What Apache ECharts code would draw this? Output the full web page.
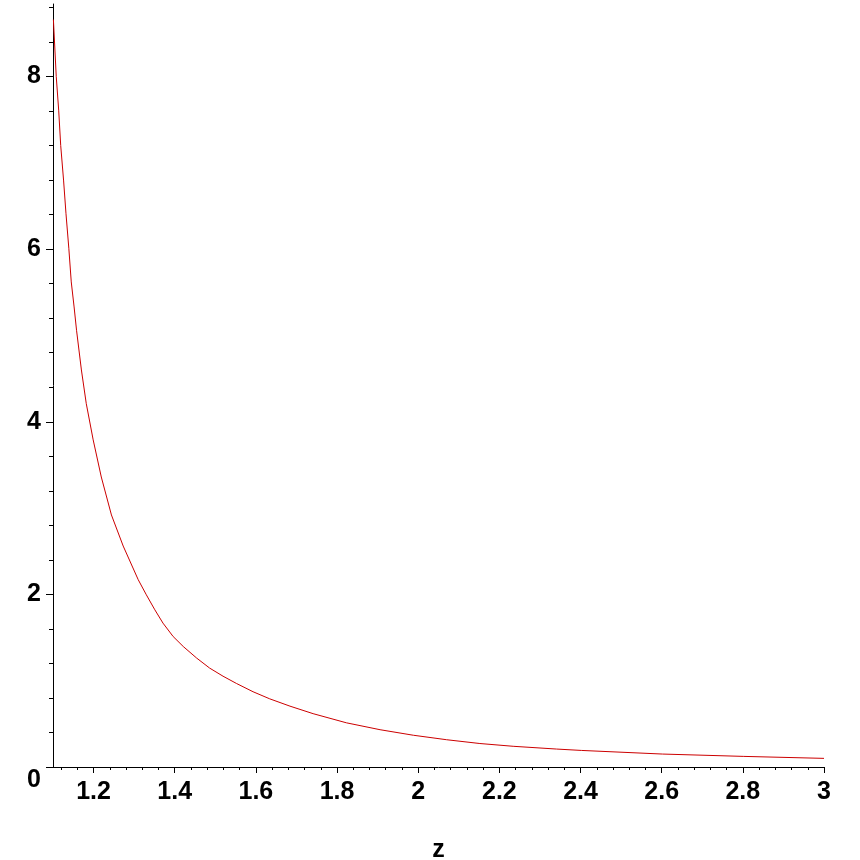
<!DOCTYPE html>
<html>
<head>
<meta charset="utf-8">
<script src="https://cdn.jsdelivr.net/npm/echarts@6/dist/echarts.min.js"></script>
<style>
  html, body { margin: 0; padding: 0; background: #fff; }
  #chart { width: 860px; height: 860px; }
</style>
</head>
<body>
<div id="chart"></div>
<script>
// values
var zValues = [1.101, 1.108, 1.114, 1.119, 1.126, 1.132, 1.139, 1.145, 1.152, 1.158,
  1.170, 1.182, 1.199, 1.219, 1.244, 1.273, 1.310, 1.330, 1.351, 1.371,
  1.396, 1.421, 1.454, 1.486, 1.519, 1.552, 1.593, 1.634, 1.684, 1.741,
  1.823, 1.906, 1.988, 2.070, 2.152, 2.234, 2.341, 2.402, 2.602, 2.801, 3.000];
var fValues = [8.66, 8.00, 7.61, 7.20, 6.80, 6.41, 6.01, 5.62, 5.33, 5.06,
  4.60, 4.21, 3.79, 3.36, 2.92, 2.56, 2.17, 1.995, 1.821, 1.667,
  1.512, 1.396, 1.262, 1.146, 1.052, 0.968, 0.872, 0.790, 0.705, 0.618,
  0.512, 0.432, 0.368, 0.316, 0.272, 0.240, 0.208, 0.192, 0.150, 0.123, 0.100];

var xTicks = [1.2, 1.4, 1.6, 1.8, 2, 2.2, 2.4, 2.6, 2.8, 3];
var xMinorTicks = [1.12, 1.16, 1.24, 1.28, 1.32, 1.36, 1.44, 1.48, 1.52, 1.56,
  1.64, 1.68, 1.72, 1.76, 1.84, 1.88, 1.92, 1.96, 2.04, 2.08, 2.12, 2.16,
  2.24, 2.28, 2.32, 2.36, 2.44, 2.48, 2.52, 2.56, 2.64, 2.68, 2.72, 2.76,
  2.84, 2.88, 2.92, 2.96];
var yTicks = [0, 2, 4, 6, 8];
var yMinorTicks = [0.4, 0.8, 1.2, 1.6, 2.4, 2.8, 3.2, 3.6, 4.4, 4.8, 5.2, 5.6,
  6.4, 6.8, 7.2, 7.6, 8.4, 8.8];

var xMin = 1.1, xMax = 3, yMin = 0, yMax = 8.84;

var points = zValues.map(function (z, i) { return [z, fValues[i]]; });

var labelFont = {
  color: "#000",
  fontFamily: "Liberation Sans, Arial, sans-serif",
  fontWeight: "bold",
  fontSize: 25
};

var chart = echarts.init(document.getElementById("chart"));
chart.setOption({
  animation: false,
  backgroundColor: "#fff",
  grid: { left: 53, right: 36, top: 4, bottom: 93, outerBoundsMode: "none", containLabel: false },
  xAxis: [
    {
      type: "value",
      min: xMin,
      max: xMax,
      name: "z",
      nameLocation: "middle",
      nameGap: 71,
      nameTextStyle: labelFont,
      axisLine: { lineStyle: { color: "#000", width: 1 } },
      axisTick: { customValues: xTicks, length: 6, lineStyle: { color: "#000" } },
      axisLabel: Object.assign({ customValues: xTicks, margin: 13 }, labelFont),
      splitLine: { show: false }
    },
    {
      type: "value",
      min: xMin,
      max: xMax,
      position: "bottom",
      axisLine: { show: false },
      axisTick: { customValues: xMinorTicks, length: 3, lineStyle: { color: "#000" } },
      axisLabel: { show: false },
      splitLine: { show: false }
    }
  ],
  yAxis: [
    {
      type: "value",
      min: yMin,
      max: yMax,
      axisLine: { show: true, lineStyle: { color: "#000", width: 1 } },
      axisTick: { show: true, customValues: yTicks, length: 7, lineStyle: { color: "#000" } },
      axisLabel: Object.assign({
        customValues: yTicks,
        margin: 12,
        formatter: function (v) { return v === 0 ? "{zero|0}" : String(v); },
        rich: { zero: Object.assign({ padding: [26, 0, 0, 0] }, labelFont) }
      }, labelFont),
      splitLine: { show: false }
    },
    {
      type: "value",
      min: yMin,
      max: yMax,
      position: "left",
      axisLine: { show: false },
      axisTick: { show: true, customValues: yMinorTicks, length: 4, lineStyle: { color: "#000" } },
      axisLabel: { show: false },
      splitLine: { show: false }
    }
  ],
  series: [
    {
      type: "line",
      data: points,
      showSymbol: false,
      smooth: false,
      lineStyle: { color: "#cc0000", width: 1 }
    }
  ]
});
</script>
</body>
</html>
